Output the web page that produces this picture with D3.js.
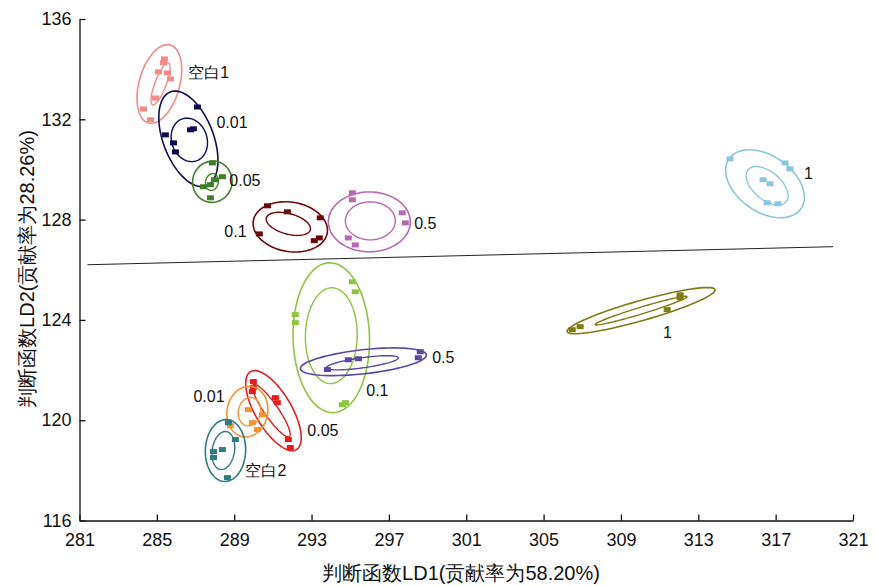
<!DOCTYPE html>
<html>
<head>
<meta charset="utf-8">
<script src="https://cdn.jsdelivr.net/npm/d3@7"></script>
<style>
  body { margin: 0; background: #fff; }
  text { font-family: "Liberation Sans", Arial, sans-serif; fill: #111; }
</style>
</head>
<body>
<div class="chart"></div>
<script>
// group names and colours
var groups = ["blank1", "c001a", "c005a", "c01a", "c05a", "c1a", "c1b", "c01b", "c05b", "c005b", "c001b", "blank2"];
var colors = ["#f28a85", "#0d0d52", "#3f7f27", "#6e0708", "#b867b2", "#89c6e2", "#7f7a12", "#8cc540", "#5a46a3", "#e41e1e", "#f39430", "#2e7b82"];

// scatter points per group [LD1, LD2]
var points = [
    [[285.39,134.41],[285.34,134.25],[285.08,133.89],[285.55,133.85],[285.70,133.61],[284.93,132.85],[284.31,132.41],[284.67,131.98]],
    [[287.10,132.49],[286.74,131.58],[286.89,131.62],[285.44,131.38],[285.86,131.06],[285.96,130.70]],
    [[287.87,130.26],[288.39,129.71],[287.98,129.59],[287.77,129.39],[287.41,129.31],[287.77,128.87]],
    [[290.72,128.55],[291.75,128.31],[293.45,128.07],[290.30,127.43],[293.14,127.16],[293.40,127.27]],
    [[295.11,129.07],[295.11,128.79],[297.69,128.27],[297.85,127.87],[294.90,127.27],[295.26,126.99]],
    [[314.64,130.42],[317.49,130.26],[317.74,130.02],[316.35,129.59],[316.71,129.43],[316.56,128.67],[317.12,128.63]],
    [[312.06,125.00],[312.06,124.88],[311.39,124.41],[306.89,123.73],[306.48,123.61]],
    [[295.11,125.52],[295.26,125.12],[292.16,124.21],[292.16,123.89],[294.75,120.70],[294.59,120.62]],
    [[293.82,122.02],[294.90,122.41],[295.42,122.45],[298.62,122.73],[298.52,122.49]],
    [[289.99,121.54],[289.99,121.30],[289.94,121.14],[291.13,120.90],[291.23,120.70],[291.80,119.23],[291.90,118.91]],
    [[289.73,120.42],[290.46,120.22],[289.94,119.90],[290.20,119.63],[288.70,119.94],[288.80,119.78]],
    [[288.70,119.90],[289.06,119.23],[288.39,118.83],[287.93,118.75],[287.93,118.51],[288.65,117.71]]
];

// confidence ellipses: [centre LD1, centre LD2, major half-axis dLD1, dLD2, minor/major ratio]
var outerEllipses = [
    [285.13,133.41, 0.568,1.554, 0.50],
    [286.63,131.22, -0.930,1.873, 0.50],
    [287.87,129.51, 0.270,0.800, 0.95],
    [291.90,127.71, 1.912,-0.239, 0.66],
    [295.99,127.91, 2.119,0, 0.73],
    [316.45,129.43, 1.860,-0.996, 0.64],
    [310.04,124.37, 3.824,0.837, 0.13],
    [294.02,123.29, -0.103,2.988, 0.51],
    [295.68,122.33, 3.256,0.279, 0.19],
    [291.03,120.38, -1.189,1.554, 0.40],
    [289.68,120.34, 0.258,0.996, 0.80],
    [288.55,118.79, 0.052,1.235, 0.65]
];
var innerEllipses = [
    [285.19,133.41, 0.413,0.837, 0.25],
    [286.68,131.18, -0.362,0.837, 0.80],
    [287.85,129.50, 0.10,0.33, 0.75],
    [291.80,127.83, 1.137,-0.239, 0.45],
    [296.04,127.95, 1.292,0, 0.76],
    [316.56,129.35, 0.982,-0.637, 0.56],
    [310.04,124.37, 2.377,0.558, 0.07],
    [294.02,123.37, 0.052,1.912, 0.54],
    [295.63,122.29, 1.860,0.199, 0.14],
    [290.92,120.38, -0.930,1.036, 0.22],
    [289.79,120.34, 0.155,0.558, 0.78],
    [288.44,118.79, 0.155,0.757, 0.58]
];

// group labels [text, LD1, LD2]
var labels = [
    ["空白1", 286.63, 133.89],
    ["0.01", 288.08, 131.86],
    ["0.05", 288.75, 129.55],
    ["0.1", 288.49, 127.51],
    ["0.5", 298.31, 127.83],
    ["1", 318.47, 129.86],
    ["1", 311.18, 123.49],
    ["0.5", 299.24, 122.49],
    ["0.1", 295.83, 121.18],
    ["0.01", 286.89, 120.94],
    ["0.05", 292.78, 119.59],
    ["空白2", 289.58, 117.99]
];

// dividing line
var divider = [[281.41, 126.20], [319.97, 126.92]];

var xTicks = d3.range(281, 322, 4);
var yTicks = d3.range(116, 137, 4);

var width = 877, height = 586;
var svg = d3.select(".chart").append("svg")
    .attr("width", width)
    .attr("height", height);

var x = d3.scaleLinear().domain([281, 321]).range([79.5, 853]);
var y = d3.scaleLinear().domain([116, 136]).range([520.5, 19]);

// axes
svg.append("g")
    .attr("transform", "translate(0,520.5)")
    .call(d3.axisBottom(x).tickValues(xTicks).tickSize(-6).tickSizeOuter(0).tickPadding(13))
    .call(function(g) {
        g.selectAll("text").style("font-size", "18px").attr("fill", "#111");
        g.selectAll("line,path").attr("stroke", "#111").attr("stroke-width", 1.3);
    });

svg.append("g")
    .attr("transform", "translate(79.5,0)")
    .call(d3.axisLeft(y).tickValues(yTicks).tickSize(-6).tickSizeOuter(0).tickPadding(8))
    .call(function(g) {
        g.selectAll("text").style("font-size", "18px").attr("fill", "#111");
        g.selectAll("line,path").attr("stroke", "#111").attr("stroke-width", 1.3);
    });

svg.append("text")
    .attr("x", 461).attr("y", 580)
    .attr("text-anchor", "middle")
    .style("font-size", "20px")
    .text("判断函数LD1(贡献率为58.20%)");

svg.append("text")
    .attr("transform", "translate(34,269) rotate(-90)")
    .attr("text-anchor", "middle")
    .style("font-size", "20px")
    .text("判断函数LD2(贡献率为28.26%)");

// divider line
svg.append("line")
    .attr("x1", x(divider[0][0])).attr("y1", y(divider[0][1]))
    .attr("x2", x(divider[1][0])).attr("y2", y(divider[1][1]))
    .attr("stroke", "#222").attr("stroke-width", 1);

// ellipse path in pixel space from data description
function ellipsePath(e) {
    var cx = x(e[0]), cy = y(e[1]);
    var ux = x(e[0] + e[2]) - cx, uy = y(e[1] + e[3]) - cy;
    var vx = -uy * e[4], vy = ux * e[4];
    var pts = d3.range(0, 73).map(function(i) {
        var t = i / 72 * 2 * Math.PI;
        return [cx + ux * Math.cos(t) + vx * Math.sin(t), cy + uy * Math.cos(t) + vy * Math.sin(t)];
    });
    return d3.line()(pts) + "Z";
}

var grp = svg.selectAll("g.group").data(groups).enter().append("g").attr("class", "group");

grp.append("path")
    .attr("d", function(d, i) { return ellipsePath(outerEllipses[i]); })
    .attr("fill", "none")
    .attr("stroke", function(d, i) { return colors[i]; })
    .attr("stroke-width", 1.6);

grp.append("path")
    .attr("d", function(d, i) { return ellipsePath(innerEllipses[i]); })
    .attr("fill", "none")
    .attr("stroke", function(d, i) { return colors[i]; })
    .attr("stroke-width", 1.4);

grp.each(function(d, i) {
    d3.select(this).selectAll("rect")
        .data(points[i]).enter().append("rect")
        .attr("x", function(p) { return x(p[0]) - 3.5; })
        .attr("y", function(p) { return y(p[1]) - 2.5; })
        .attr("width", 7).attr("height", 5)
        .attr("fill", colors[i]);
});

svg.selectAll("text.lbl").data(labels).enter().append("text")
    .attr("class", "lbl")
    .attr("x", function(d) { return x(d[1]); })
    .attr("y", function(d) { return y(d[2]); })
    .attr("dy", "0.35em")
    .style("font-size", "16px")
    .text(function(d) { return d[0]; });
</script>
</body>
</html>
